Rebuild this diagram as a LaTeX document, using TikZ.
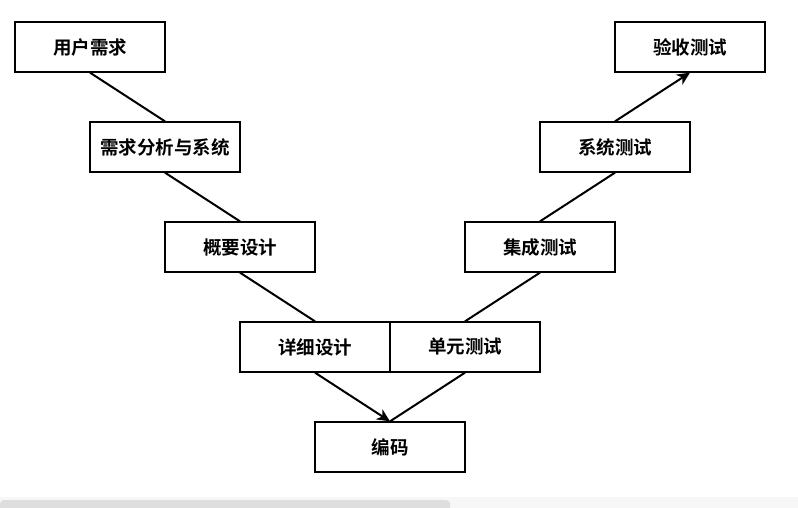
\documentclass[tikz,border=0pt]{standalone}
\usepackage{fontspec}
\newfontfamily\cjk{Noto Sans CJK SC}[BoldFont={Noto Sans CJK SC Bold}]
\usetikzlibrary{arrows.meta}
\begin{document}
\begin{tikzpicture}[x=1pt,y=-1pt,
		stage/.style={draw,line width=1.3pt,minimum width=150pt,minimum height=50pt,inner sep=0pt,
			font=\cjk\bfseries\fontsize{18.5}{20}\selectfont},
		link/.style={line width=2pt},
		flow/.style={link,-{Stealth[length=13pt,width=12pt,inset=4pt]}}]
	\useasboundingbox (0,0) rectangle (798,508);
	\fill[white] (0,0) rectangle (798,508);
	% scroll bar of the screenshot
	\fill[black!3] (0,497) rectangle (798,508);
	\fill[black!13,rounded corners=4pt] (0,500) -- (450,500) -- (450,512) -- (0,512) -- cycle;
	\node[stage](need) at (90,47) {用户需求};
	\node[stage](anal) at (165,147) {需求分析与系统};
	\node[stage](arch) at (240,247) {概要设计};
	\node[stage](detail) at (315,347) {详细设计};
	\node[stage](code) at (390,447) {编码};
	\node[stage](unit) at (465,347) {单元测试};
	\node[stage](integ) at (540,247) {集成测试};
	\node[stage](systest) at (615,147) {系统测试};
	\node[stage](accept) at (690,47) {验收测试};
	\draw[link] (need.south)--(anal.north) (anal.south)--(arch.north) (arch.south)--(detail.north);
	\draw[flow] (detail.south)--(code.north);
	\draw[link] (unit.south)--(code.north) (unit.north)--(integ.south) (integ.north)--(systest.south);
	\draw[flow] (systest.north)--(accept.south);
\end{tikzpicture}
\end{document}
